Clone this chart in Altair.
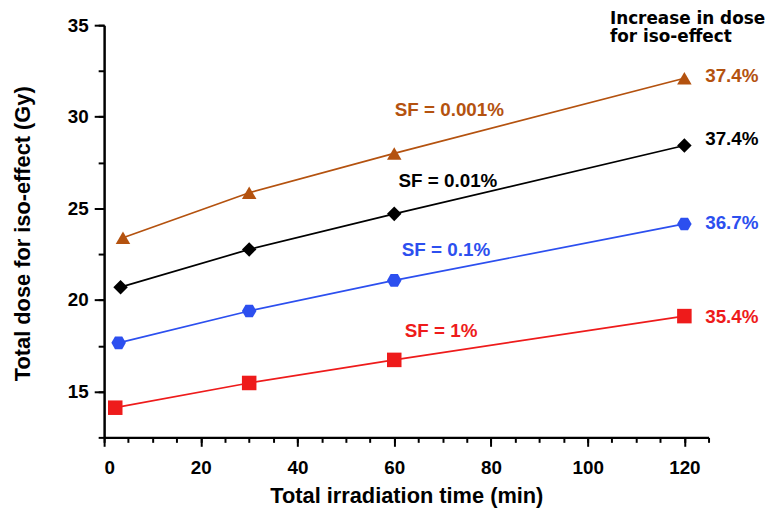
import altair as alt
import pandas as pd

# ---- data ----
series_names = ["SF = 0.001%", "SF = 0.01%", "SF = 0.1%", "SF = 1%"]
series_colors = ["#B4520F", "#000000", "#2C4FEF", "#EE1B1B"]
series_shapes = [
    "triangle-up",
    "diamond",
    "M-1,0L-0.5,-0.866L0.5,-0.866L1,0L0.5,0.866L-0.5,0.866Z",
    "square",
]
time_sf0001 = [3.9, 30, 60, 120]
dose_sf0001 = [23.4, 25.85, 28.0, 32.1]
time_sf001 = [3.4, 30, 60, 120]
dose_sf001 = [20.7, 22.76, 24.7, 28.43]
time_sf01 = [3.0, 30, 60, 120]
dose_sf01 = [17.66, 19.4, 21.07, 24.15]
time_sf1 = [2.3, 30, 60, 120]
dose_sf1 = [14.12, 15.47, 16.73, 19.12]

increase_labels = ["37.4%", "37.4%", "36.7%", "35.4%"]
increase_y = [32.2, 28.78, 24.19, 19.05]
sf_label_x = [71.4, 71.1, 70.7, 69.7]
sf_label_y = [30.36, 26.48, 22.75, 18.28]
header_lines = ["Increase in dose", "for iso-effect"]
header_y = [35.36, 34.33]

x_major = [0, 20, 40, 60, 80, 100, 120]
x_minor = [v for v in range(0, 126, 5)]
y_major = [15, 20, 25, 30, 35]
y_minor = [12.5, 15, 17.5, 20, 22.5, 25, 27.5, 30, 32.5, 35]

# ---- tables ----
rows = []
for name, ts, ds in zip(series_names,
                        [time_sf0001, time_sf001, time_sf01, time_sf1],
                        [dose_sf0001, dose_sf001, dose_sf01, dose_sf1]):
    for t, d in zip(ts, ds):
        rows.append({"series": name, "time": t, "dose": d})
df = pd.DataFrame(rows)

ann = []
for name, col, lx, ly, inc, iy in zip(series_names, series_colors, sf_label_x,
                                      sf_label_y, increase_labels, increase_y):
    ann.append({"text": name, "x": lx, "y": ly, "col": col, "kind": "sf"})
    ann.append({"text": inc, "x": 124.3, "y": iy, "col": col, "kind": "inc"})
ann_df = pd.DataFrame(ann)
head_df = pd.DataFrame({"text": header_lines, "x": [104.6, 104.6], "y": header_y})

FONT = "Liberation Sans"
xs = alt.Scale(domain=[0, 125], nice=False, zero=False)
ys = alt.Scale(domain=[12.5, 35], nice=False, zero=False)
cs = alt.Scale(domain=series_names, range=series_colors)
ss = alt.Scale(domain=series_names, range=series_shapes)

major_x = alt.Axis(values=x_major, orient="bottom", title="Total irradiation time (min)",
                   tickSize=9, tickWidth=2, tickColor="black", domainColor="black",
                   domainWidth=2.5, labelFont=FONT, labelFontSize=19,
                   labelFontWeight="bold", labelColor="black", labelPadding=12,
                   titleFont=FONT, titleFontSize=22, titleFontWeight="bold",
                   titleColor="black", titlePadding=9, grid=False, zindex=1)
minor_x = alt.Axis(values=x_minor, orient="bottom", title=None, labels=False,
                   tickSize=5, tickWidth=2, tickColor="black", domain=False, grid=False,
                   zindex=1)
major_y = alt.Axis(values=y_major, orient="left", title="Total dose for iso-effect (Gy)",
                   tickSize=10, tickWidth=2, tickColor="black", domainColor="black",
                   domainWidth=2.5, labelFont=FONT, labelFontSize=19,
                   labelFontWeight="bold", labelColor="black", labelPadding=6,
                   titleFont=FONT, titleFontSize=22, titleFontWeight="bold",
                   titleColor="black", titleX=-70, titleY=210, titleAngle=-90,
                   titleAlign="center", titleBaseline="bottom", grid=False, zindex=1)
minor_y = alt.Axis(values=y_minor, orient="left", title=None, labels=False,
                   tickSize=6, tickWidth=2, tickColor="black", domain=False, grid=False,
                   zindex=1)

base = alt.Chart(df)
lines = base.mark_line(strokeWidth=1.7).encode(
    x=alt.X("time:Q", scale=xs, axis=major_x),
    y=alt.Y("dose:Q", scale=ys, axis=major_y),
    color=alt.Color("series:N", scale=cs, legend=None),
    detail="series:N",
)
points = base.mark_point(filled=True, opacity=1, size=215, strokeWidth=0).encode(
    x=alt.X("time:Q", scale=xs, axis=minor_x),
    y=alt.Y("dose:Q", scale=ys, axis=minor_y),
    color=alt.Color("series:N", scale=cs, legend=None),
    shape=alt.Shape("series:N", scale=ss, legend=None),
)
sf_text = alt.Chart(ann_df).transform_filter(alt.datum.kind == "sf").mark_text(
    font=FONT, fontSize=19, fontWeight="bold", align="center", baseline="middle"
).encode(x=alt.X("x:Q", scale=xs, axis=None), y=alt.Y("y:Q", scale=ys, axis=None),
         text="text:N", color=alt.Color("col:N", scale=None))
inc_text = alt.Chart(ann_df).transform_filter(alt.datum.kind == "inc").mark_text(
    font=FONT, fontSize=19, fontWeight="bold", align="left", baseline="middle"
).encode(x=alt.X("x:Q", scale=xs, axis=None), y=alt.Y("y:Q", scale=ys, axis=None),
         text="text:N", color=alt.Color("col:N", scale=None))
head_text = alt.Chart(head_df).mark_text(
    font="DejaVu Sans", fontSize=17, fontWeight="bold", align="left", baseline="middle",
    color="black"
).encode(x=alt.X("x:Q", scale=xs, axis=None), y=alt.Y("y:Q", scale=ys, axis=None),
         text="text:N")

chart = alt.layer(lines, points, sf_text, inc_text, head_text).resolve_axis(
    x="independent", y="independent"
).properties(
    width=610, height=416,
    autosize=alt.AutoSizeParams(type="none"),
    padding={"left": 97, "top": 15, "right": 60, "bottom": 76},
    background="white",
).configure_view(stroke=None)

chart.save("out.html", embed_options={"renderer": "svg", "actions": False})
